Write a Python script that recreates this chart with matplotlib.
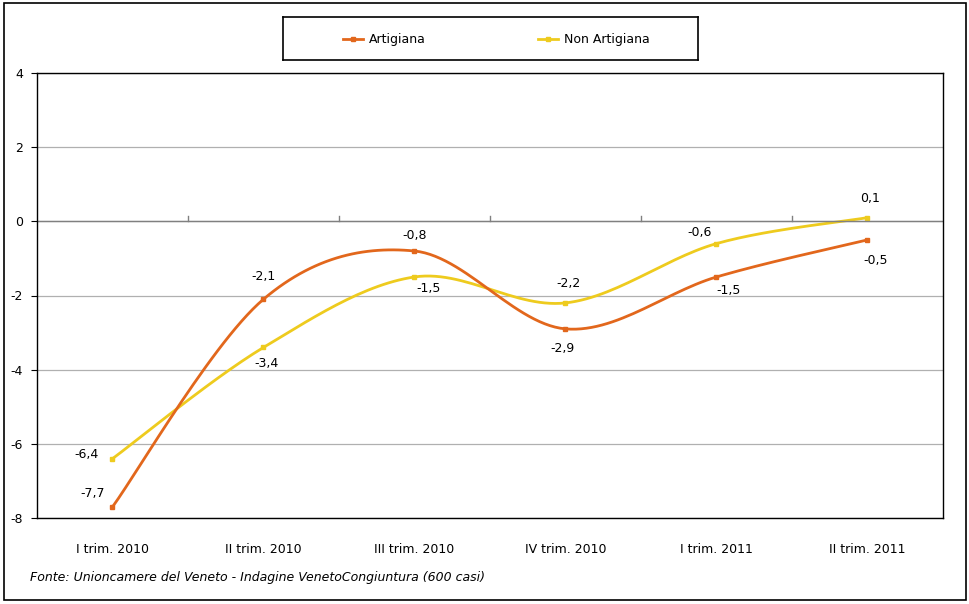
import matplotlib
matplotlib.use("Agg")
import matplotlib.pyplot as plt
import numpy as np
from matplotlib.patches import Rectangle

categories = ["I trim. 2010", "II trim. 2010", "III trim. 2010",
              "IV trim. 2010", "I trim. 2011", "II trim. 2011"]
artigiana = [-7.7, -2.1, -0.8, -2.9, -1.5, -0.5]
non_artigiana = [-6.4, -3.4, -1.5, -2.2, -0.6, 0.1]

col_art = "#E2671C"
col_non = "#EECB1E"

plt.rcParams['font.family'] = ['DejaVu Sans']


def smooth(x, y, n=30):
    # Excel-style smoothed line (Catmull-Rom Bezier between points)
    x = np.asarray(x, float)
    y = np.asarray(y, float)
    px, py = [], []
    for i in range(len(x) - 1):
        x0, y0 = (x[i - 1], y[i - 1]) if i > 0 else (x[i], y[i])
        x3, y3 = (x[i + 2], y[i + 2]) if i + 2 < len(x) else (x[i + 1], y[i + 1])
        c1x = x[i] + (x[i + 1] - x0) / 6
        c1y = y[i] + (y[i + 1] - y0) / 6
        c2x = x[i + 1] - (x3 - x[i]) / 6
        c2y = y[i + 1] - (y3 - y[i]) / 6
        t = np.linspace(0, 1, n)
        bx = (1-t)**3*x[i] + 3*(1-t)**2*t*c1x + 3*(1-t)*t**2*c2x + t**3*x[i+1]
        by = (1-t)**3*y[i] + 3*(1-t)**2*t*c1y + 3*(1-t)*t**2*c2y + t**3*y[i+1]
        px.extend(bx)
        py.extend(by)
    return px, py


fig = plt.figure(figsize=(9.7, 6.04), dpi=100)
fig.patches.append(Rectangle((0.004, 0.006), 0.992, 0.989, transform=fig.transFigure,
                             fill=False, edgecolor="black", lw=1.2))

ax = fig.add_axes([37/970, 1 - 518/604, 906/970, 445/604])
xs = np.arange(len(categories))

for vals, col in [(non_artigiana, col_non), (artigiana, col_art)]:
    sx, sy = smooth(xs, vals)
    ax.plot(sx, sy, color=col, lw=2)
    ax.plot(xs, vals, ls="none", marker="s", ms=3.5, color=col)

ax.set_xlim(-0.5, 5.5)
ax.set_ylim(-8, 4)
ax.set_yticks([-8, -6, -4, -2, 0, 2, 4])
ax.set_yticklabels(["-8", "-6", "-4", "-2", "0", "2", "4"], fontsize=9)
ax.grid(axis="y", color="#B0B0B0", lw=0.9)
ax.set_axisbelow(True)
ax.axhline(0, color="#808080", lw=1)
for s in ax.spines.values():
    s.set_color("black")
    s.set_linewidth(1)
ax.tick_params(axis="y", length=4, color="black", pad=6)
ax.set_xticks(xs)
ax.set_xticklabels(categories, fontsize=9)
ax.tick_params(axis="x", length=0, pad=18)
# category boundary ticks on the zero line
for b in np.arange(0.5, 5.5, 1):
    ax.plot([b, b], [0, 0.15], color="#808080", lw=1)

# data labels
art_off = [(-14, 9.5), (0, 16), (0, 11.5), (-2, -14), (9, -9.5), (6, -15)]
non_off = [(-19, 3), (2, -11.5), (10, -8), (2, 14), (-12, 8), (2, 14)]
for i, v in enumerate(artigiana):
    ax.annotate(f"{v:.1f}".replace(".", ","), (xs[i], v), xytext=art_off[i],
                textcoords="offset points", ha="center", va="center", fontsize=9)
for i, v in enumerate(non_artigiana):
    ax.annotate(f"{v:.1f}".replace(".", ","), (xs[i], v), xytext=non_off[i],
                textcoords="offset points", ha="center", va="center", fontsize=9)

# legend box
lax = fig.add_axes([283/970, 1 - 60/604, 415/970, 43/604])
lax.set_xlim(0, 415)
lax.set_ylim(0, 43)
lax.set_xticks([])
lax.set_yticks([])
for s in lax.spines.values():
    s.set_linewidth(1.2)
lax.plot([60, 80], [21, 21], color=col_art, lw=2)
lax.plot([70], [21], marker="s", ms=3.5, color=col_art)
lax.text(86, 21, "Artigiana", va="center", fontsize=9)
lax.plot([255, 275], [21, 21], color=col_non, lw=2)
lax.plot([265], [21], marker="s", ms=3.5, color=col_non)
lax.text(281, 21, "Non Artigiana", va="center", fontsize=9)

fig.text(30/970, 1 - 578/604, "Fonte: Unioncamere del Veneto - Indagine VenetoCongiuntura (600 casi)",
         fontsize=9, style="italic", va="center")

fig.savefig("out.png", dpi=100)
